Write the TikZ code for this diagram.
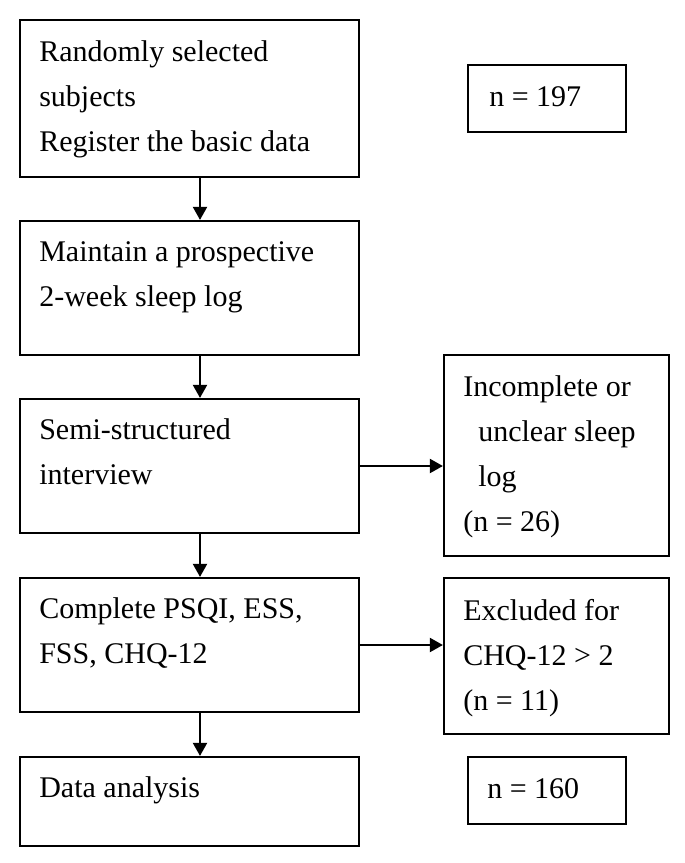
\documentclass[tikz,border=0pt]{standalone}
\usepackage{fontspec}
\setmainfont{Liberation Serif}
\usetikzlibrary{positioning,arrows.meta}

\begin{document}
\begin{tikzpicture}[
    x=0.5pt, y=-0.5pt,
    stepbox/.style={rectangle, draw, line width=1.1pt, minimum width=169.5pt, inner sep=0pt},
    sidebox/.style={rectangle, draw, line width=1.1pt, minimum width=112.5pt, inner sep=0pt},
    nbox/.style={rectangle, draw, line width=1.1pt, minimum width=79pt, minimum height=33.5pt, inner sep=0pt},
    boxtext/.style={anchor=base west, align=left, inner sep=0pt, font=\fontsize{15}{22.5}\selectfont},
    ptr/.style={-{Triangle[length=6.5pt,width=7pt]}, line width=1pt}
]
    \useasboundingbox (0,0) rectangle (685,863);

    % Main steps
    \node[stepbox, minimum height=78.5pt] (b1) at (189.5,98.5) {};
    \node[stepbox, minimum height=67pt] (b2) at (189.5,288) {};
    \node[stepbox, minimum height=67pt] (b3) at (189.5,466) {};
    \node[stepbox, minimum height=67pt] (b4) at (189.5,645) {};
    \node[stepbox, minimum height=44.5pt] (b5) at (189.5,801.5) {};

    % base of a multi-line node is its last line
    \node[boxtext] (t1) at ([xshift=10pt,yshift=-66.5pt]b1.north west) {Randomly selected\\subjects\\Register the basic data};
    \node[boxtext] (t2) at ([xshift=10pt,yshift=-43.5pt]b2.north west) {Maintain a prospective\\2-week sleep log};
    \node[boxtext] (t3) at ([xshift=10pt,yshift=-43.5pt]b3.north west) {Semi-structured\\interview};
    \node[boxtext] (t4) at ([xshift=10pt,yshift=-43.5pt]b4.north west) {Complete PSQI, ESS,\\FSS, CHQ-12};
    \node[boxtext] (t5) at ([xshift=10pt,yshift=-21pt]b5.north west) {Data analysis};

    % Side boxes
    \node[nbox] (n1) at (547,98.5) {};
    \node[boxtext] (tn1) at ([xshift=11pt,yshift=-21.5pt]n1.north west) {n = 197};
    \node[sidebox, minimum height=100.5pt] (inc) at (556.5,455.5) {};
    \node[boxtext] (tinc) at ([xshift=10pt,yshift=-89pt]inc.north west) {Incomplete or\\\hspace{7.5pt}unclear sleep\\\hspace{7.5pt}log\\(n = 26)};
    \node[sidebox, minimum height=78pt] (exc) at (556.5,656) {};
    \node[boxtext] (texc) at ([xshift=10pt,yshift=-67pt]exc.north west) {Excluded for\\CHQ-12 > 2\\(n = 11)};
    \node[nbox] (n2) at (547,790.5) {};
    \node[boxtext] (tn2) at ([xshift=10pt,yshift=-21.5pt]n2.north west) {n = 160};

    % Arrows
    \draw[ptr] ([xshift=5.25pt]b1.south) -- ([xshift=5.25pt]b2.north);
    \draw[ptr] ([xshift=5.25pt]b2.south) -- ([xshift=5.25pt]b3.north);
    \draw[ptr] ([xshift=5.25pt]b3.south) -- ([xshift=5.25pt]b4.north);
    \draw[ptr] ([xshift=5.25pt]b4.south) -- ([xshift=5.25pt]b5.north);
    \draw[ptr] (b3.east) -- (b3.east -| inc.west);
    \draw[ptr] (b4.east) -- (b4.east -| exc.west);
\end{tikzpicture}
\end{document}
